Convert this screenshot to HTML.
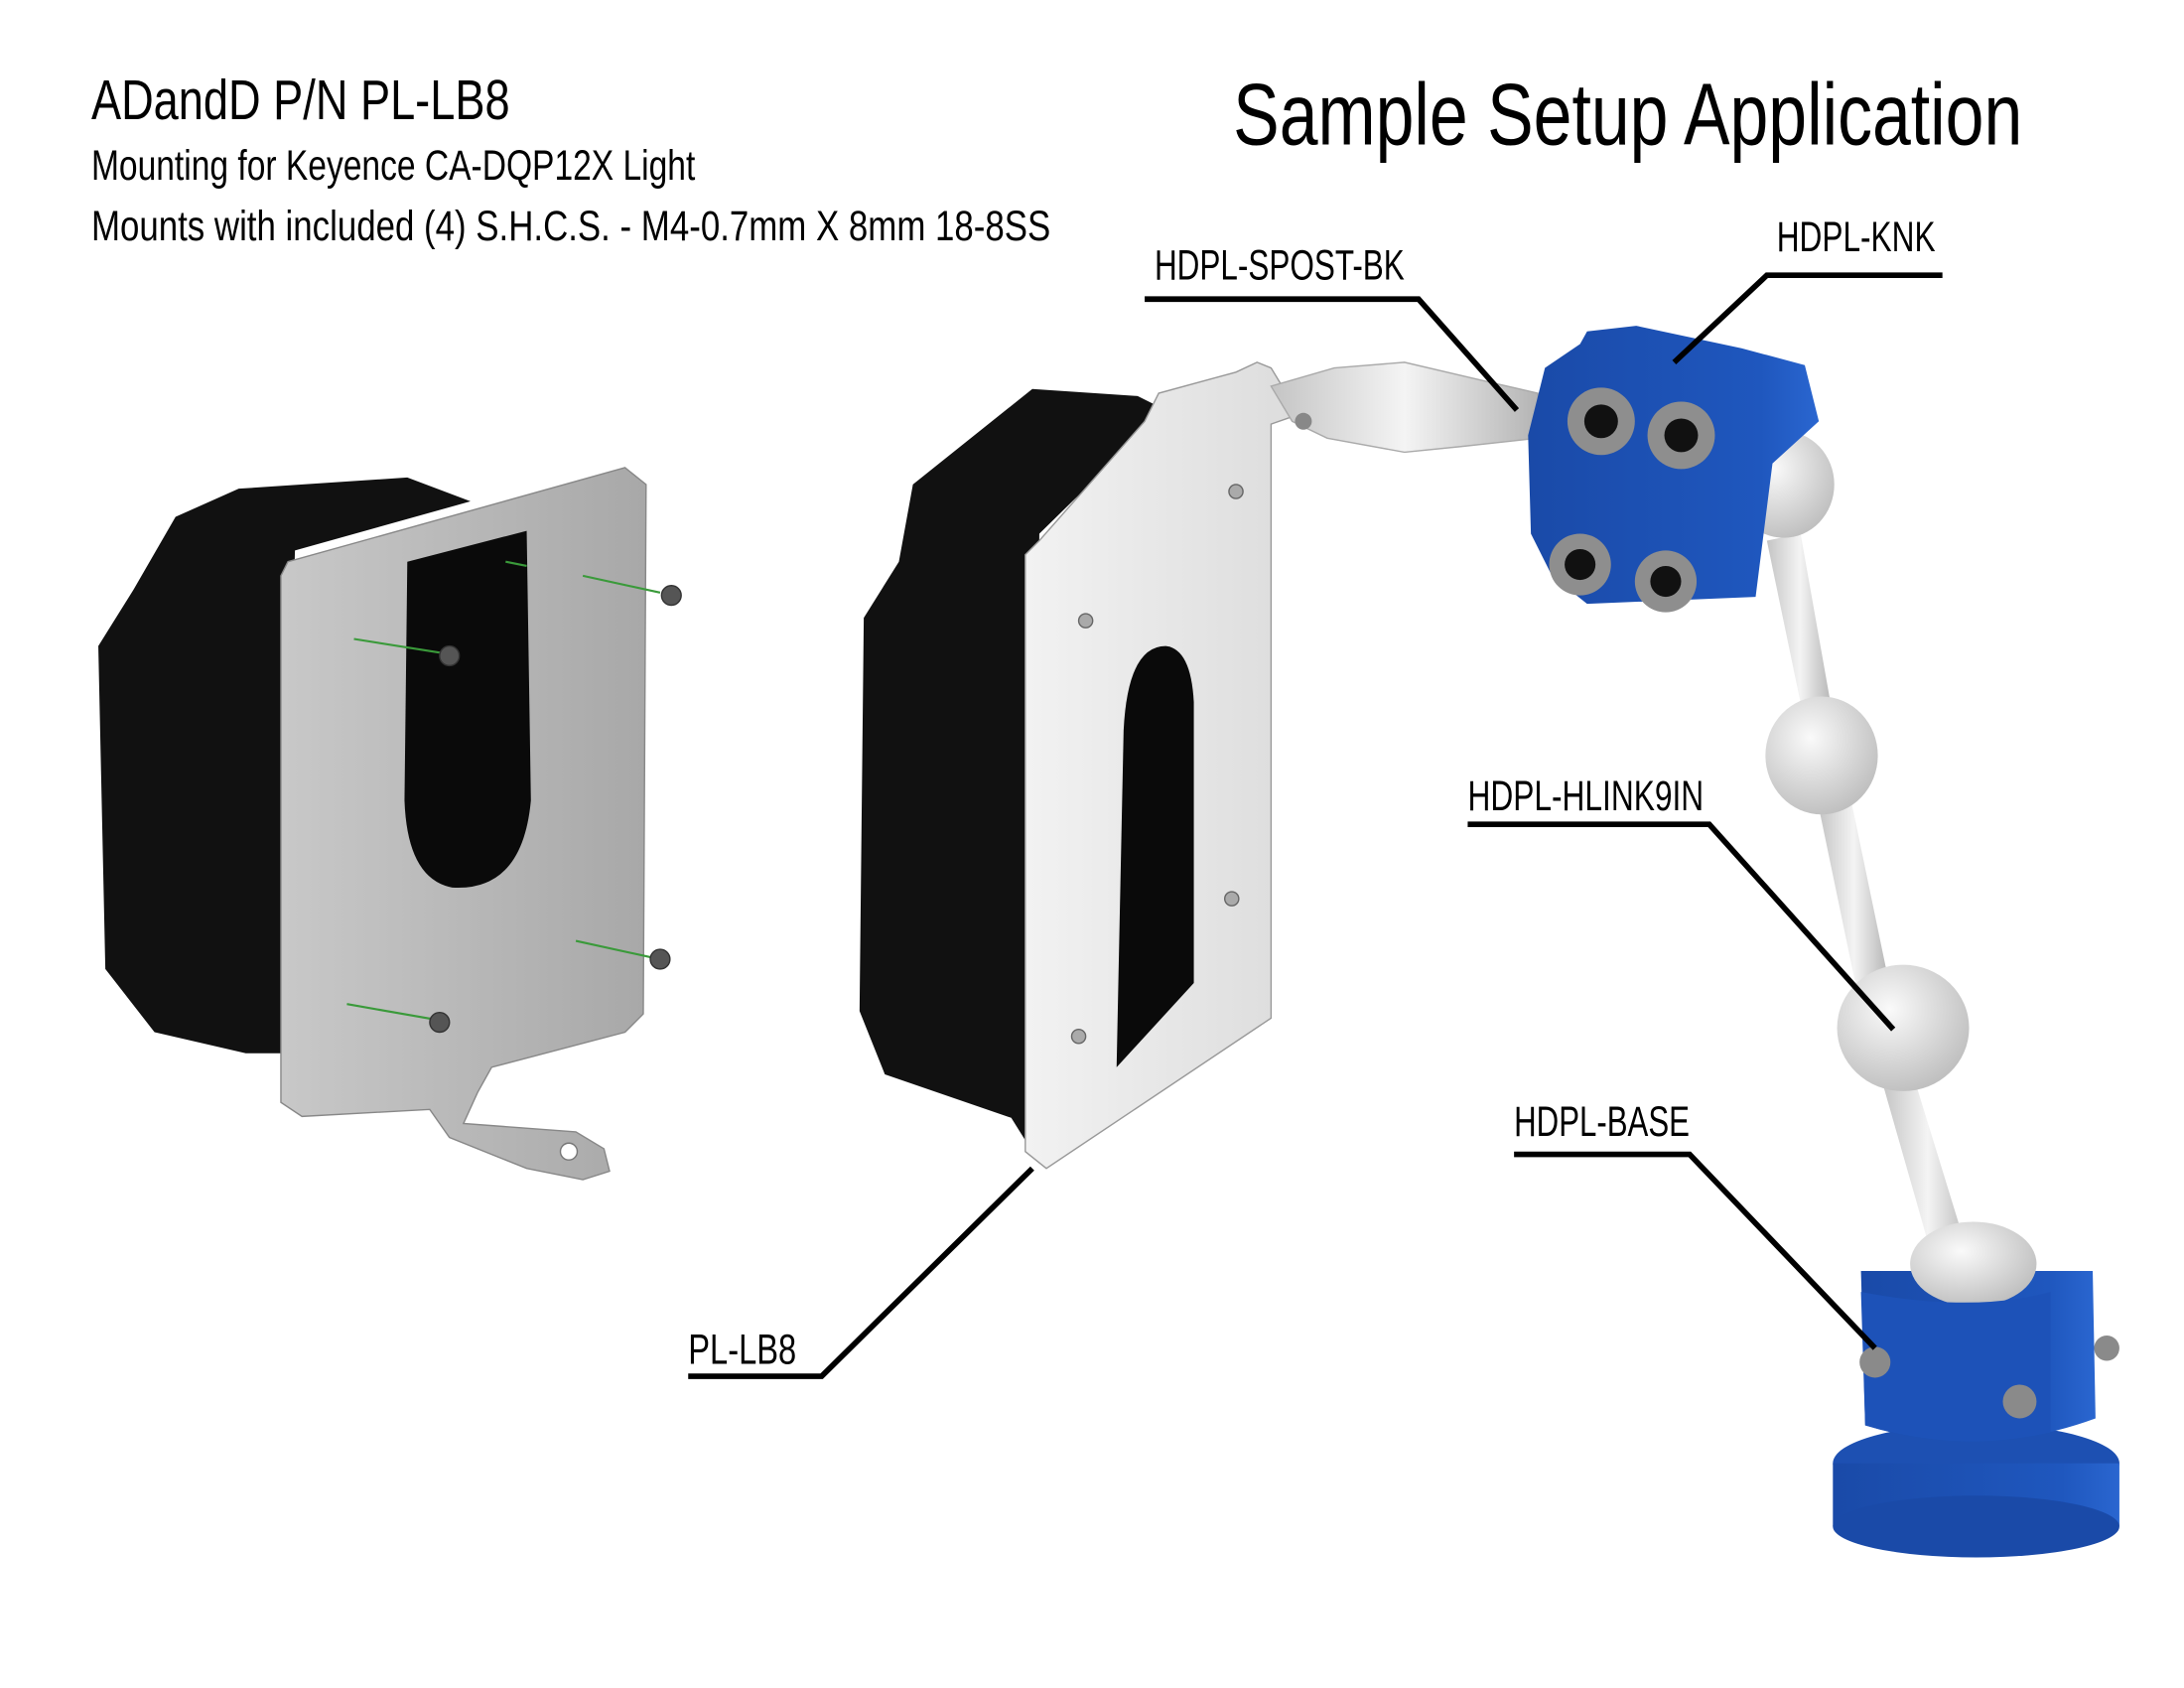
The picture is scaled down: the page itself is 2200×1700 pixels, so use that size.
<!DOCTYPE html>
<html><head><meta charset="utf-8"><style>
html,body{margin:0;padding:0;background:#fff;width:2200px;height:1700px;overflow:hidden}
svg{display:block}
text{font-family:"Liberation Sans",sans-serif;fill:#000}
</style></head><body>
<svg width="2200" height="1700" viewBox="0 0 1555 1202" preserveAspectRatio="none" xmlns="http://www.w3.org/2000/svg">
<defs>
<linearGradient id="gy" x1="0" x2="1"><stop offset="0" stop-color="#c8c8c8"/><stop offset="1" stop-color="#a8a8a8"/></linearGradient>
<linearGradient id="wh" x1="0" x2="1"><stop offset="0" stop-color="#f2f2f2"/><stop offset="1" stop-color="#dcdcdc"/></linearGradient>
<radialGradient id="ball" cx="0.4" cy="0.35" r="0.7"><stop offset="0" stop-color="#fafafa"/><stop offset="1" stop-color="#bdbdbd"/></radialGradient>
<linearGradient id="rod" x1="0" x2="1"><stop offset="0" stop-color="#c4c4c4"/><stop offset="0.5" stop-color="#f4f4f4"/><stop offset="1" stop-color="#b4b4b4"/></linearGradient>
<linearGradient id="bl" x1="0" x2="1"><stop offset="0" stop-color="#1a4aa8"/><stop offset="0.8" stop-color="#1f57be"/><stop offset="1" stop-color="#2a66d0"/></linearGradient>
</defs>

<text x="65" y="85" font-size="40" textLength="298" lengthAdjust="spacingAndGlyphs">ADandD P/N PL-LB8</text>
<text x="65" y="128" font-size="30" textLength="430" lengthAdjust="spacingAndGlyphs">Mounting for Keyence CA-DQP12X Light</text>
<text x="65" y="171" font-size="30" textLength="683" lengthAdjust="spacingAndGlyphs">Mounts with  included (4) S.H.C.S. - M4-0.7mm X 8mm 18-8SS</text>
<text x="878" y="103" font-size="62" textLength="562" lengthAdjust="spacingAndGlyphs">Sample Setup Application</text>

<path d="M125,368 L170,348 L290,340 L335,357 L210,392 L200,750 L175,750 L110,735 L75,690 L70,460 L95,420 Z" fill="#111"/>
<path d="M205,400 L445,333 L460,345 L458,722 L445,735 L350,760 L340,778 L330,800 L410,806 L430,818 L434,834 L415,840 L375,832 L320,810 L306,790 L215,795 L200,785 L200,410 Z" fill="url(#gy)" stroke="#888" stroke-width="1"/>
<circle cx="405" cy="820" r="6" fill="#fff" stroke="#777"/>
<path d="M290,400 L375,378 L378,570 Q372,635 322,632 Q290,626 288,570 Z" fill="#0a0a0a"/>
<g stroke="#3a9a3a" stroke-width="1.5"><line x1="415" y1="410" x2="470" y2="422"/><line x1="252" y1="455" x2="315" y2="465"/><line x1="410" y1="670" x2="465" y2="682"/><line x1="247" y1="715" x2="310" y2="726"/><line x1="360" y1="400" x2="375" y2="403"/></g>
<g fill="#555" stroke="#333"><circle cx="478" cy="424" r="7"/><circle cx="320" cy="467" r="7"/><circle cx="470" cy="683" r="7"/><circle cx="313" cy="728" r="7"/></g>

<path d="M735,277 L810,282 L830,292 L740,380 L735,820 L720,796 L630,765 L612,720 L615,440 L640,400 L650,345 Z" fill="#111"/>
<path d="M740,385 L815,300 L825,280 L880,265 L895,258 L905,262 L925,295 L905,302 L905,725 L745,832 L730,820 L730,395 Z" fill="url(#wh)" stroke="#999" stroke-width="1"/>
<path d="M800,520 Q803,460 830,460 Q848,462 850,500 L850,700 L795,760 Z" fill="#0a0a0a"/>
<g fill="#aaa" stroke="#666"><circle cx="880" cy="350" r="5"/><circle cx="773" cy="442" r="5"/><circle cx="877" cy="640" r="5"/><circle cx="768" cy="738" r="5"/></g>

<path d="M905,275 L950,262 L1000,258 L1060,272 L1095,280 L1095,312 L1040,318 L1000,322 L945,312 L920,300 Z" fill="url(#rod)" stroke="#aaa"/>
<circle cx="928" cy="300" r="6" fill="#888"/>
<path d="M1258,385 L1282,380 L1305,510 L1285,515 Z" fill="url(#rod)"/>
<path d="M1295,575 L1318,570 L1345,700 L1322,705 Z" fill="url(#rod)"/>
<path d="M1340,770 L1362,765 L1405,905 L1380,910 Z" fill="url(#rod)"/>
<ellipse cx="1297" cy="538" rx="40" ry="42" fill="url(#ball)"/>
<ellipse cx="1355" cy="732" rx="47" ry="45" fill="url(#ball)"/>
<ellipse cx="1270" cy="345" rx="36" ry="38" fill="url(#ball)"/>
<path d="M1100,262 L1125,245 L1130,236 L1165,232 L1240,248 L1285,260 L1295,300 L1262,330 L1250,425 L1130,430 L1105,410 L1090,380 L1088,310 Z" fill="url(#bl)"/>
<g><circle cx="1140" cy="300" r="24" fill="#8e8e8e"/><circle cx="1140" cy="300" r="12" fill="#111"/>
<circle cx="1197" cy="310" r="24" fill="#8e8e8e"/><circle cx="1197" cy="310" r="12" fill="#111"/>
<circle cx="1125" cy="402" r="22" fill="#8e8e8e"/><circle cx="1125" cy="402" r="11" fill="#111"/>
<circle cx="1186" cy="414" r="22" fill="#8e8e8e"/><circle cx="1186" cy="414" r="11" fill="#111"/></g>

<ellipse cx="1407" cy="1042" rx="102" ry="28" fill="#1d50b2"/>
<rect x="1305" y="1042" width="204" height="45" fill="url(#bl)"/>
<ellipse cx="1407" cy="1087" rx="102" ry="22" fill="#1a4aa8"/>
<path d="M1325,905 L1490,905 L1492,1010 Q1410,1040 1328,1015 Z" fill="url(#bl)"/>
<ellipse cx="1405" cy="900" rx="45" ry="30" fill="url(#ball)"/>
<path d="M1325,920 Q1405,935 1460,920 L1460,1020 Q1395,1035 1328,1015 Z" fill="#1d52b8"/>
<g fill="#8a8a8a"><circle cx="1335" cy="970" r="11"/><circle cx="1438" cy="998" r="12"/><circle cx="1500" cy="960" r="9"/></g>

<g stroke="#000" stroke-width="4" fill="none" stroke-linecap="butt">
<polyline points="815,213 1010,213 1080,292"/>
<polyline points="1383,196 1258,196 1192,258"/>
<polyline points="1045,587 1217,587 1348,733"/>
<polyline points="1078,822 1203,822 1335,960"/>
<polyline points="490,980 585,980 735,832"/>
</g>
<text x="822" y="199" font-size="30" textLength="178" lengthAdjust="spacingAndGlyphs">HDPL-SPOST-BK</text>
<text x="1265" y="179" font-size="30" textLength="113" lengthAdjust="spacingAndGlyphs">HDPL-KNK</text>
<text x="1045" y="577" font-size="30" textLength="168" lengthAdjust="spacingAndGlyphs">HDPL-HLINK9IN</text>
<text x="1078" y="809" font-size="30" textLength="125" lengthAdjust="spacingAndGlyphs">HDPL-BASE</text>
<text x="490" y="971" font-size="30" textLength="77" lengthAdjust="spacingAndGlyphs">PL-LB8</text>
</svg>
</body></html>
